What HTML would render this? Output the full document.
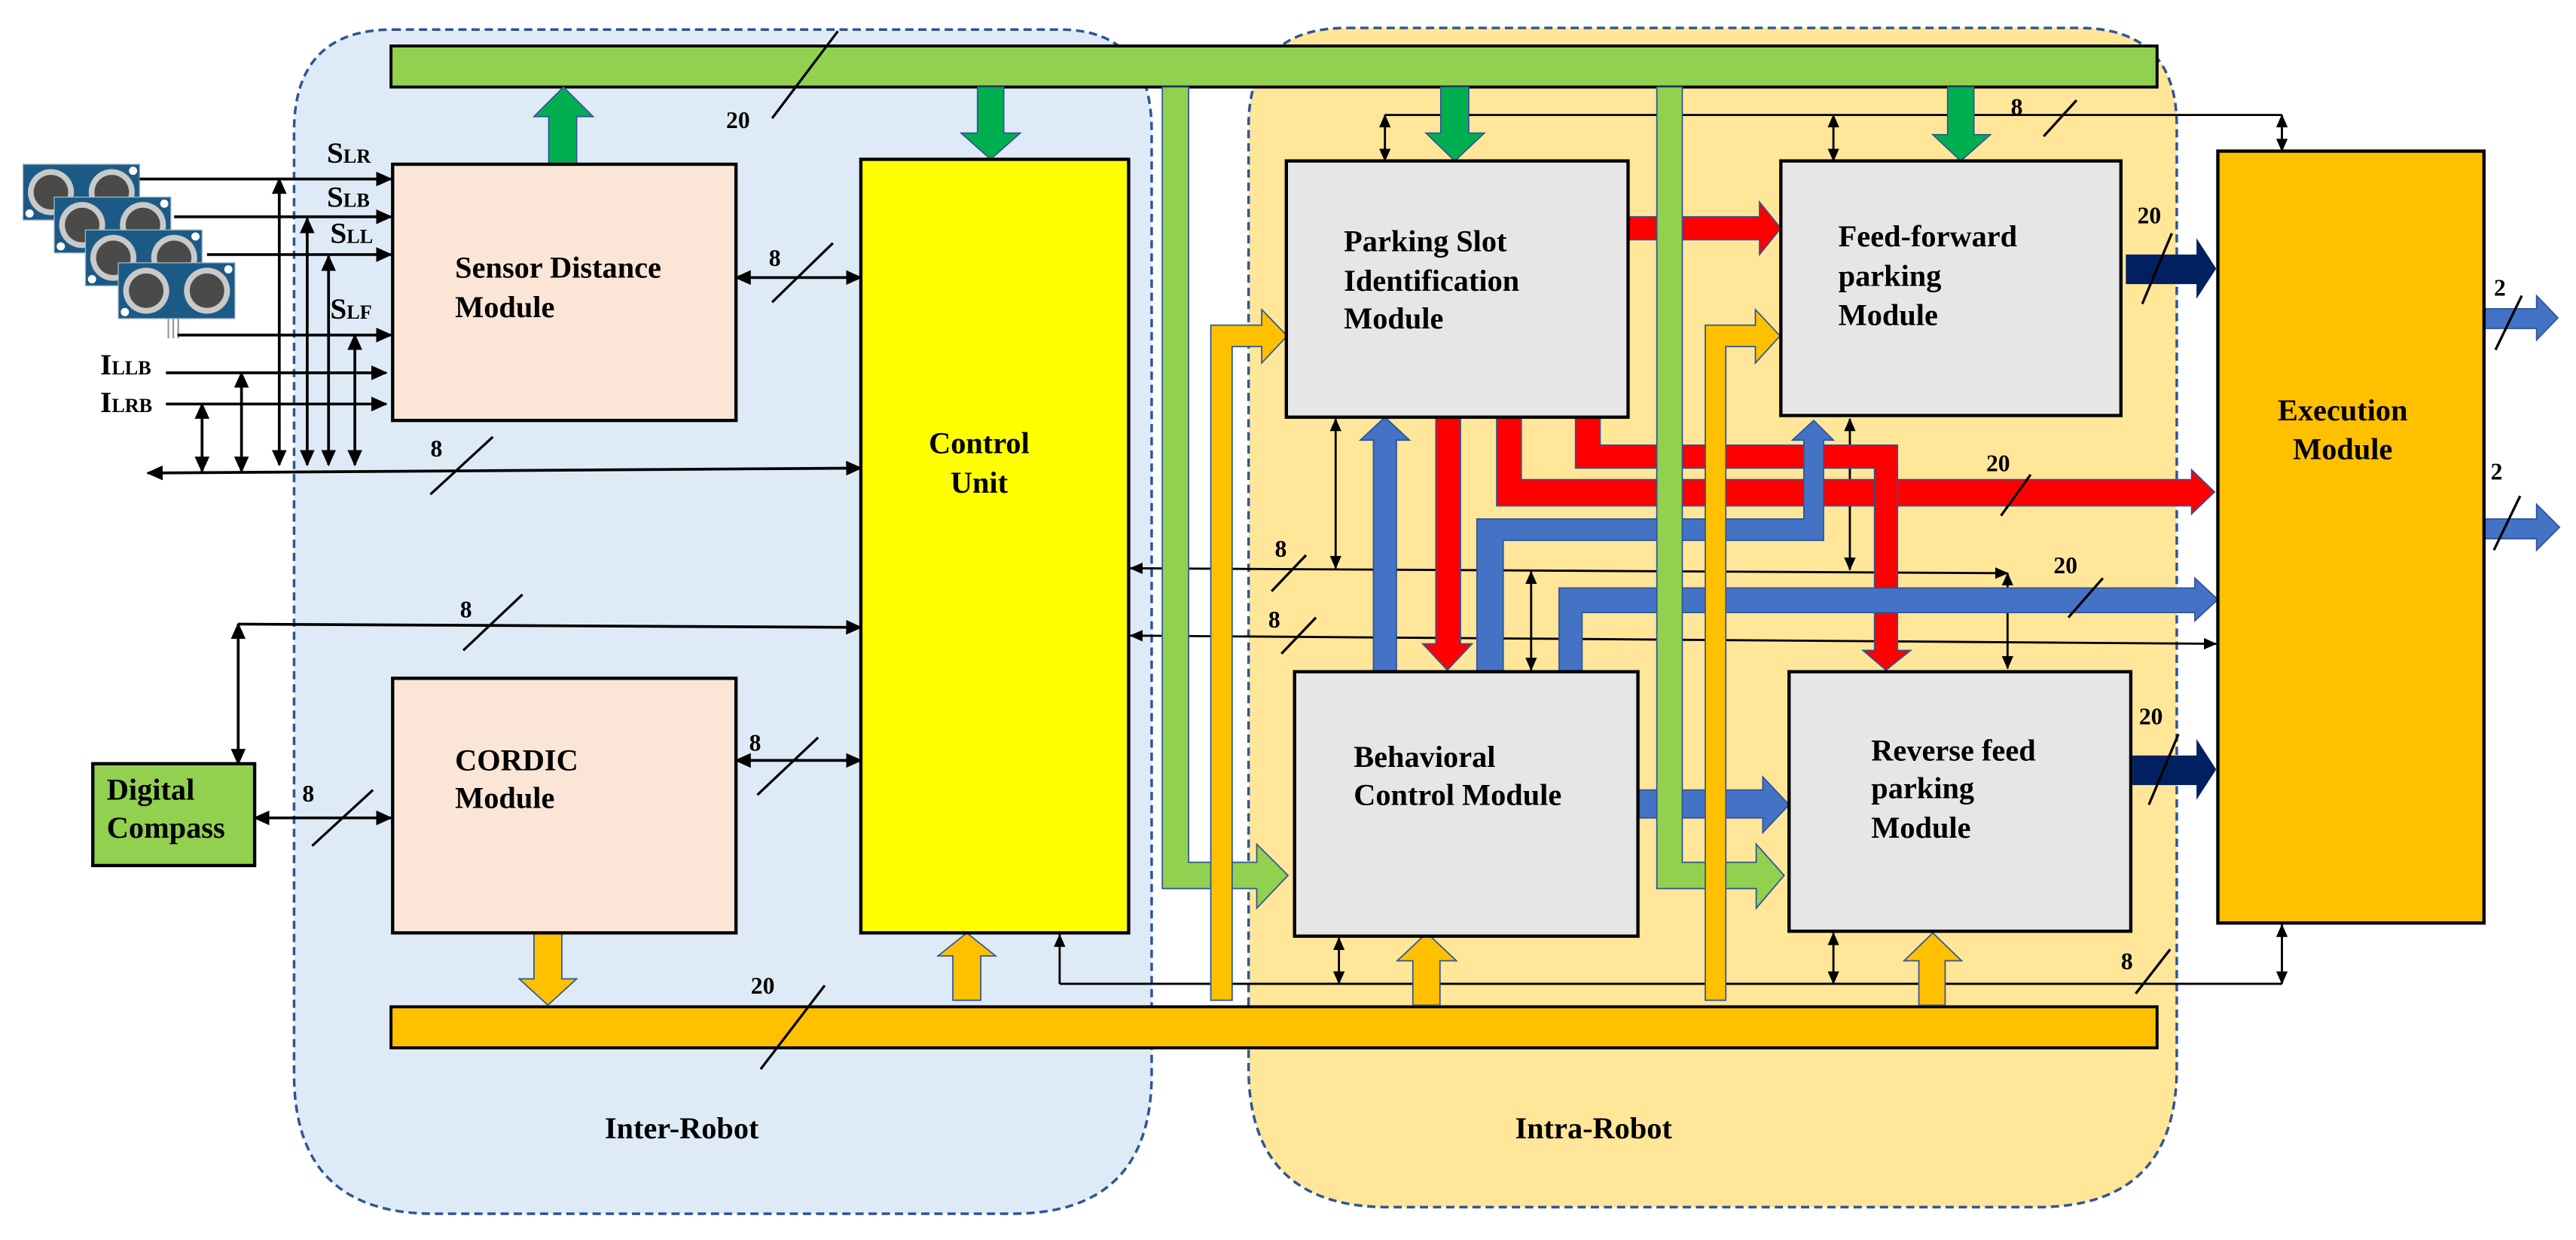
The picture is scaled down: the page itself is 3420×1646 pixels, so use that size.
<!DOCTYPE html>
<html><head><meta charset="utf-8"><style>
html,body{margin:0;padding:0;background:#fff;}
svg{display:block;}
text{font-family:"Liberation Serif",serif;font-weight:bold;fill:#000;}
</style></head><body>
<svg width="3420" height="1646" viewBox="0 0 1568 755" preserveAspectRatio="none" xmlns="http://www.w3.org/2000/svg">
<defs>
<marker id="a" markerUnits="userSpaceOnUse" markerWidth="10" markerHeight="10" refX="9" refY="5" orient="auto-start-reverse" viewBox="0 0 10 10"><path d="M0,0.5 L10,5 L0,9.5 Z" fill="#000"/></marker>
<marker id="s" markerUnits="userSpaceOnUse" markerWidth="8" markerHeight="8" refX="7.5" refY="4" orient="auto-start-reverse" viewBox="0 0 8 8"><path d="M0,0.5 L8,4 L0,7.5 Z" fill="#000"/></marker>
<g id="sen">
<rect x="0" y="0" width="71" height="34" fill="#1c5a86" stroke="#9fb7c8" stroke-width="0.6"/>
<circle cx="17" cy="17" r="14" fill="#c9c9c9"/><circle cx="17" cy="17" r="10.5" fill="#4a4a48"/>
<circle cx="54" cy="17" r="14" fill="#c9c9c9"/><circle cx="54" cy="17" r="10.5" fill="#4a4a48"/>
<circle cx="4" cy="30" r="2.5" fill="#fff"/><circle cx="67" cy="4" r="2.5" fill="#fff"/>
</g>
</defs>

<!-- regions -->
<path d="M239,18 L645,18 Q701,18 701,80 L701,654 Q701,739 616,739 L264,739 Q179,739 179,654 L179,80 Q179,18 239,18 Z" fill="#DEEBF7" stroke="#2F5597" stroke-width="1.6" stroke-dasharray="5,3"/>
<path d="M820,17 L1265,17 Q1325,17 1325,77 L1325,650 Q1325,735 1240,735 L845,735 Q760,735 760,650 L760,77 Q760,17 820,17 Z" fill="#FFE699" stroke="#2F5597" stroke-width="1.6" stroke-dasharray="5,3"/>

<!-- buses -->
<rect x="238" y="28" width="1075" height="25" fill="#92D050" stroke="#000" stroke-width="1.8"/>
<rect x="238" y="613" width="1075" height="25" fill="#FFC000" stroke="#000" stroke-width="1.8"/>

<!-- sensors -->
<use href="#sen" x="14" y="100"/>
<use href="#sen" x="33" y="120"/>
<use href="#sen" x="52" y="140"/>
<use href="#sen" x="72" y="160"/>
<rect x="102" y="194" width="1" height="12" fill="#999"/><rect x="105" y="194" width="1" height="12" fill="#999"/><rect x="108" y="194" width="1" height="12" fill="#999"/>

<!-- sensor lines -->
<g stroke="#000" stroke-width="1.7" fill="none">
<line x1="85" y1="109" x2="238" y2="109" marker-end="url(#a)"/>
<line x1="106" y1="132" x2="238" y2="132" marker-end="url(#a)"/>
<line x1="126" y1="155" x2="238" y2="155" marker-end="url(#a)"/>
<line x1="108" y1="204" x2="238" y2="204" marker-end="url(#a)"/>
<line x1="101" y1="227" x2="235" y2="227" marker-end="url(#a)"/>
<line x1="101" y1="246" x2="235" y2="246" marker-end="url(#a)"/>
<line x1="90" y1="288" x2="524" y2="285" marker-start="url(#a)" marker-end="url(#a)"/>
<line x1="123" y1="246" x2="123" y2="287" marker-start="url(#a)" marker-end="url(#a)"/>
<line x1="147" y1="227" x2="147" y2="287" marker-start="url(#a)" marker-end="url(#a)"/>
<line x1="170" y1="109" x2="170" y2="283" marker-start="url(#a)" marker-end="url(#a)"/>
<line x1="187" y1="133" x2="187" y2="283" marker-start="url(#a)" marker-end="url(#a)"/>
<line x1="200" y1="156" x2="200" y2="283" marker-start="url(#a)" marker-end="url(#a)"/>
<line x1="216" y1="204" x2="216" y2="283" marker-start="url(#a)" marker-end="url(#a)"/>
<line x1="448" y1="169" x2="524" y2="169" marker-start="url(#a)" marker-end="url(#a)"/>
<line x1="145" y1="380" x2="524" y2="382" marker-end="url(#a)"/>
<line x1="145" y1="380" x2="145" y2="465" marker-start="url(#a)" marker-end="url(#a)"/>
<line x1="448" y1="463" x2="524" y2="463" marker-start="url(#a)" marker-end="url(#a)"/>
<line x1="155" y1="498" x2="238" y2="498" marker-start="url(#a)" marker-end="url(#a)"/>
</g>

<!-- thin right lines -->
<g stroke="#000" stroke-width="1.3" fill="none">
<line x1="843" y1="70" x2="1389" y2="70"/>
<line x1="843" y1="70" x2="843" y2="98" marker-start="url(#s)" marker-end="url(#s)"/>
<line x1="1116" y1="70" x2="1116" y2="98" marker-start="url(#s)" marker-end="url(#s)"/>
<line x1="1389" y1="70" x2="1389" y2="92" marker-start="url(#s)" marker-end="url(#s)"/>
<line x1="688" y1="346" x2="1222" y2="349" marker-start="url(#s)" marker-end="url(#s)"/>
<line x1="688" y1="387" x2="1349" y2="392" marker-start="url(#s)" marker-end="url(#s)"/>
<line x1="813" y1="255" x2="813" y2="346" marker-start="url(#s)" marker-end="url(#s)"/>
<line x1="1126" y1="255" x2="1126" y2="347" marker-start="url(#s)" marker-end="url(#s)"/>
<line x1="932" y1="348" x2="932" y2="408" marker-start="url(#s)" marker-end="url(#s)"/>
<line x1="1222" y1="349" x2="1222" y2="407" marker-start="url(#s)" marker-end="url(#s)"/>
<line x1="645" y1="599" x2="1389" y2="599"/>
<line x1="645" y1="569" x2="645" y2="599" marker-start="url(#s)"/>
<line x1="815" y1="571" x2="815" y2="599" marker-start="url(#s)" marker-end="url(#s)"/>
<line x1="1116" y1="568" x2="1116" y2="599" marker-start="url(#s)" marker-end="url(#s)"/>
<line x1="1389" y1="563" x2="1389" y2="599" marker-start="url(#s)" marker-end="url(#s)"/>
</g>

<!-- red bands -->
<g fill="#FF0000" stroke="#2F5597" stroke-width="0.8">
<polygon points="991,132 1071,132 1071,123 1084,139 1071,155 1071,146 991,146"/>
<polygon points="874,254 889,254 889,392 896,392 881,408 866,392 874,392"/>
<polygon points="911,254 926,254 926,292 1334,292 1334,286 1348,299.5 1334,313 1334,308 911,308"/>
<polygon points="959,254 974,254 974,271 1155,271 1155,396 1163,396 1148,408 1134,396 1141,396 1141,285 959,285"/>
</g>
<!-- blue bands -->
<g fill="#4472C4" stroke="#2F5597" stroke-width="0.8">
<polygon points="836,409 850,409 850,268 858,268 843,254 828,268 836,268"/>
<polygon points="899,409 915,409 915,329 1110,329 1110,268 1116,268 1104,256 1091,268 1098,268 1098,316 899,316"/>
<polygon points="949,409 963,409 963,373 1336,373 1336,378 1350,365 1336,352 1336,358 949,358"/>
<polygon points="997,481 1073,481 1073,473 1089,490 1073,507 1073,498 997,498"/>
<polygon points="1512,188 1544,188 1544,180 1557,193.5 1544,207 1544,200 1512,200"/>
<polygon points="1512,316 1544,316 1544,307 1558,321 1544,335 1544,328 1512,328"/>
</g>
<!-- navy -->
<g fill="#002060">
<polygon points="1294,155 1337,155 1337,145 1349,163.5 1337,182 1337,173 1294,173"/>
<polygon points="1298,460 1337,460 1337,450 1349,468.5 1337,487 1337,478 1298,478"/>
</g>

<!-- green verticals/elbows -->
<g fill="#92D050" stroke="#2F5597" stroke-width="0.8">
<polygon points="707.5,53 723.5,53 723.5,525 765,525 765,514 784,533 765,553 765,541 707.5,541"/>
<polygon points="1008.5,53 1024,53 1024,525 1069,525 1069,514 1086,533 1069,553 1069,541 1008.5,541"/>
</g>
<!-- orange verticals/elbows -->
<g fill="#FFC000" stroke="#2F5597" stroke-width="0.8">
<polygon points="737,609 750,609 750,211 768,211 768,221 783.5,204.5 768,188.5 768,198 737,198"/>
<polygon points="1038,609 1050.5,609 1050.5,211 1068.5,211 1068.5,221 1083.5,204.5 1068.5,188.5 1068.5,198 1038,198"/>
<polygon points="325,568 342,568 342,596 351,596 333.5,612 316,596 325,596"/>
<polygon points="580,609 597,609 597,582 606,582 588.5,568 571,582 580,582"/>
<polygon points="860,612 876.5,612 876.5,585 886.5,585 868.5,568 850.5,585 860,585"/>
<polygon points="1168,612 1184,612 1184,585 1194,585 1176.5,568 1159,585 1168,585"/>
</g>
<!-- dark green arrows -->
<g fill="#00B050" stroke="#2F5597" stroke-width="0.8">
<polygon points="334,100 351,100 351,71 361,71 343,53 325,71 334,71"/>
<polygon points="595,53 611,53 611,81 621,81 603,97 585,81 595,81"/>
<polygon points="877,53 894,53 894,81 903.5,81 885.5,98 868,81 877,81"/>
<polygon points="1185.5,53 1201.5,53 1201.5,82 1211.5,82 1193.5,98 1176.5,82 1185.5,82"/>
</g>

<!-- boxes -->
<g stroke="#000" stroke-width="2">
<rect x="239" y="100" width="209" height="156" fill="#FBE5D6"/>
<rect x="239" y="413" width="209" height="155" fill="#FBE5D6"/>
<rect x="524" y="97" width="163" height="471" fill="#FFFF00"/>
<rect x="56.5" y="465" width="98.5" height="62" fill="#92D050"/>
<rect x="783" y="98" width="208" height="156" fill="#E7E6E6"/>
<rect x="1084" y="98" width="207" height="155" fill="#E7E6E6"/>
<rect x="788" y="409" width="209" height="161" fill="#E7E6E6"/>
<rect x="1089" y="409" width="208" height="158" fill="#E7E6E6"/>
<rect x="1350" y="92" width="162" height="470" fill="#FFC000"/>
</g>

<!-- box text -->
<g font-size="18.5">
<text x="277" y="169">Sensor Distance</text><text x="277" y="193">Module</text>
<text x="596" y="276" text-anchor="middle">Control</text><text x="596" y="300" text-anchor="middle">Unit</text>
<text x="277" y="469">CORDIC</text><text x="277" y="492">Module</text>
<text x="65" y="487">Digital</text><text x="65" y="510">Compass</text>
<text x="818" y="153">Parking Slot</text><text x="818" y="177">Identification</text><text x="818" y="200">Module</text>
<text x="1119" y="150">Feed-forward</text><text x="1119" y="174">parking</text><text x="1119" y="198">Module</text>
<text x="1426" y="256" text-anchor="middle">Execution</text><text x="1426" y="279.5" text-anchor="middle">Module</text>
<text x="824" y="467">Behavioral</text><text x="824" y="490">Control Module</text>
<text x="1139" y="463">Reverse feed</text><text x="1139" y="486">parking</text><text x="1139" y="510">Module</text>
<text x="415" y="693" text-anchor="middle">Inter-Robot</text>
<text x="970" y="693" text-anchor="middle">Intra-Robot</text>
</g>
<!-- signal labels -->
<g font-size="18">
<text x="199" y="99">S<tspan font-size="12">LR</tspan></text>
<text x="199" y="126">S<tspan font-size="12">LB</tspan></text>
<text x="201" y="148">S<tspan font-size="12">LL</tspan></text>
<text x="201" y="194">S<tspan font-size="12">LF</tspan></text>
<text x="61" y="228">I<tspan font-size="12">LLB</tspan></text>
<text x="61" y="251">I<tspan font-size="12">LRB</tspan></text>
</g>
<!-- bit width labels -->
<g font-size="14.5">
<text x="442" y="78">20</text>
<text x="468" y="162">8</text>
<text x="262" y="278">8</text>
<text x="280" y="376">8</text>
<text x="456" y="457">8</text>
<text x="184" y="488">8</text>
<text x="457" y="605">20</text>
<text x="1224" y="70">8</text>
<text x="1301" y="136">20</text>
<text x="1518" y="180">2</text>
<text x="1516" y="292">2</text>
<text x="1209" y="287">20</text>
<text x="1250" y="349">20</text>
<text x="1302" y="441">20</text>
<text x="1291" y="590">8</text>
<text x="776" y="339">8</text>
<text x="772" y="382">8</text>
</g>
<!-- slashes -->
<g stroke="#000" stroke-width="1.5">
<line x1="470" y1="72" x2="510" y2="19"/>
<line x1="470" y1="184" x2="507" y2="148"/>
<line x1="262" y1="301" x2="300" y2="266"/>
<line x1="282" y1="396" x2="318" y2="362"/>
<line x1="461" y1="484" x2="498" y2="449"/>
<line x1="190" y1="515" x2="227" y2="481"/>
<line x1="463" y1="651" x2="502" y2="600"/>
<line x1="1244" y1="83" x2="1264" y2="61"/>
<line x1="1304" y1="185" x2="1322" y2="142"/>
<line x1="1519" y1="213" x2="1535" y2="180"/>
<line x1="1518" y1="335" x2="1534" y2="302"/>
<line x1="1218" y1="314" x2="1236" y2="289"/>
<line x1="1259" y1="376" x2="1280" y2="352"/>
<line x1="1308" y1="490" x2="1326" y2="447"/>
<line x1="1300" y1="605" x2="1321" y2="578"/>
<line x1="774" y1="360" x2="795" y2="338"/>
<line x1="780" y1="398" x2="801" y2="376"/>
</g>
</svg>
</body></html>
